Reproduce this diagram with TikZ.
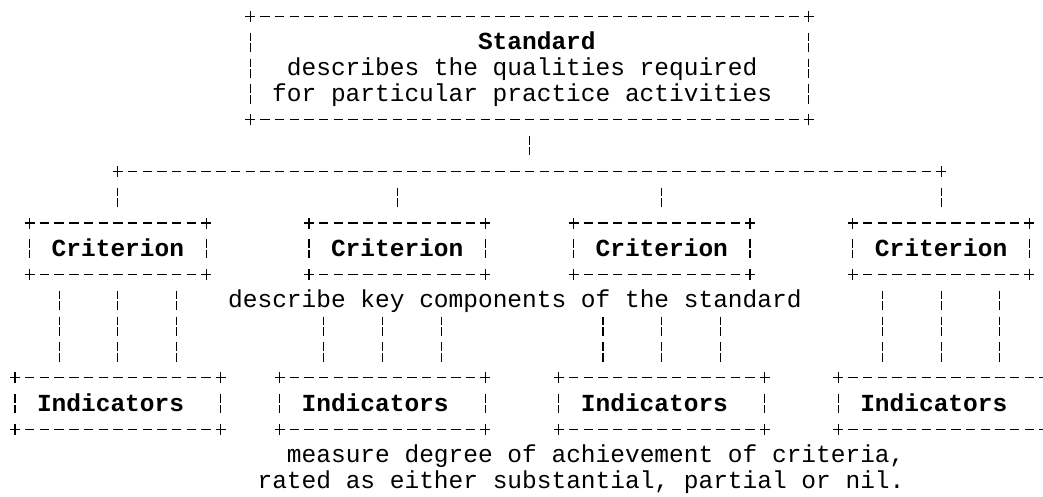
\documentclass[tikz,border=0pt]{standalone}
\usepackage{fontspec}
\setmonofont{Liberation Mono}
\usetikzlibrary{calc}

\tikzset{
  every node/.style={font=\ttfamily\fontsize{24.5}{25.8}\selectfont, inner sep=0pt, outer sep=0pt},
  % one text row is 25.8pt high, one character 14.7pt wide
  hyph/.style={line width=1.1pt, dash pattern=on 9.4pt off 5.3pt, shorten <=10pt, shorten >=10pt},
  bar/.style={line width=1.1pt, dash pattern=on 8.6pt off 2pt on 8.6pt off 6.6pt, shorten <=16.2pt, shorten >=16.2pt},
  asciibox/.style={rectangle, text height=15pt, text depth=0pt},
  pics/plus/.style={code={\draw[line width=1.1pt] (-5pt,0pt) -- (5pt,0pt) (0pt,-5.5pt) -- (0pt,5.5pt);}},
}

% frame of a box: dashes, broken bars and a plus at each corner
\newcommand\asciiframe[1]{%
  \draw[hyph] (#1.north west) -- (#1.north east);
  \draw[hyph] (#1.south west) -- (#1.south east);
  \draw[bar] (#1.north west) -- (#1.south west);
  \draw[bar] (#1.north east) -- (#1.south east);
  \foreach \corner in {north west, north east, south west, south east}
    \pic at (#1.\corner) {plus};
}

\begin{document}
\begin{tikzpicture}[x=14.7pt, y=-25.8pt, shift={(15pt,-16.6pt)}]
      \useasboundingbox (-15pt,16.6pt) rectangle (1028pt,-479.4pt);

      % Standard
      \node[asciibox, minimum width=558.6pt, minimum height=103.2pt, align=center,
            text height=66.6pt] (std) at (35,2)
        {\hphantom{x}\textbf{Standard}\\describes the qualities required\hphantom{x}\\for particular practice activities\hphantom{x}};

      % Criteria and indicators
      \foreach \i/\cx in {1/7, 2/26, 3/44, 4/63}
        \node[asciibox, minimum width=176.4pt, minimum height=51.6pt] (crit\i) at (\cx,9) {\textbf{Criterion}};
      \foreach \i/\cx in {1/7, 2/25, 3/44, 4/63}
        \node[asciibox, minimum width=205.8pt, minimum height=51.6pt] (ind\i) at (\cx,15) {\textbf{Indicators}\hphantom{x}};

      \foreach \n in {std, crit1, crit2, crit3, crit4, ind1, ind2, ind3, ind4}
        {\asciiframe{\n}}

      % Branch line under the standard
      \coordinate (busw) at (7,6);
      \coordinate (buse) at (63,6);
      \draw[hyph] (busw) -- (buse);
      \pic at (busw) {plus};
      \pic at (buse) {plus};
      \draw[bar] (std.south) -- (std.south |- busw);
      \foreach \i in {1,...,4}
        \draw[bar] (crit\i.north |- busw) -- (crit\i.north);

      % Links from criteria down to indicators
      \coordinate (keyrow) at (0,11);
      \foreach \d in {-58.8pt, 0pt, 58.8pt} {
        \draw[bar] ([xshift=\d]crit1.south) -- ([xshift=\d]ind1.north);
        \draw[bar] ([xshift=\d]ind2.north |- keyrow) -- ([xshift=\d]ind2.north);
        \draw[bar] ([xshift=\d]ind3.north |- keyrow) -- ([xshift=\d]ind3.north);
        \draw[bar] ([xshift=\d]crit4.south) -- ([xshift=\d]ind4.north);
      }

      % Notes
      \node[anchor=base west, yshift=-7.5pt] (keynote) at (14.5,11) {describe key components of the standard};
      \node[anchor=base west, yshift=-7.5pt] (measnote) at (18.5,17) {measure degree of achievement of criteria,};
      \node[anchor=base west, yshift=-7.5pt] (ratenote) at (16.5,18) {rated as either substantial, partial or nil.};
\end{tikzpicture}
\end{document}
